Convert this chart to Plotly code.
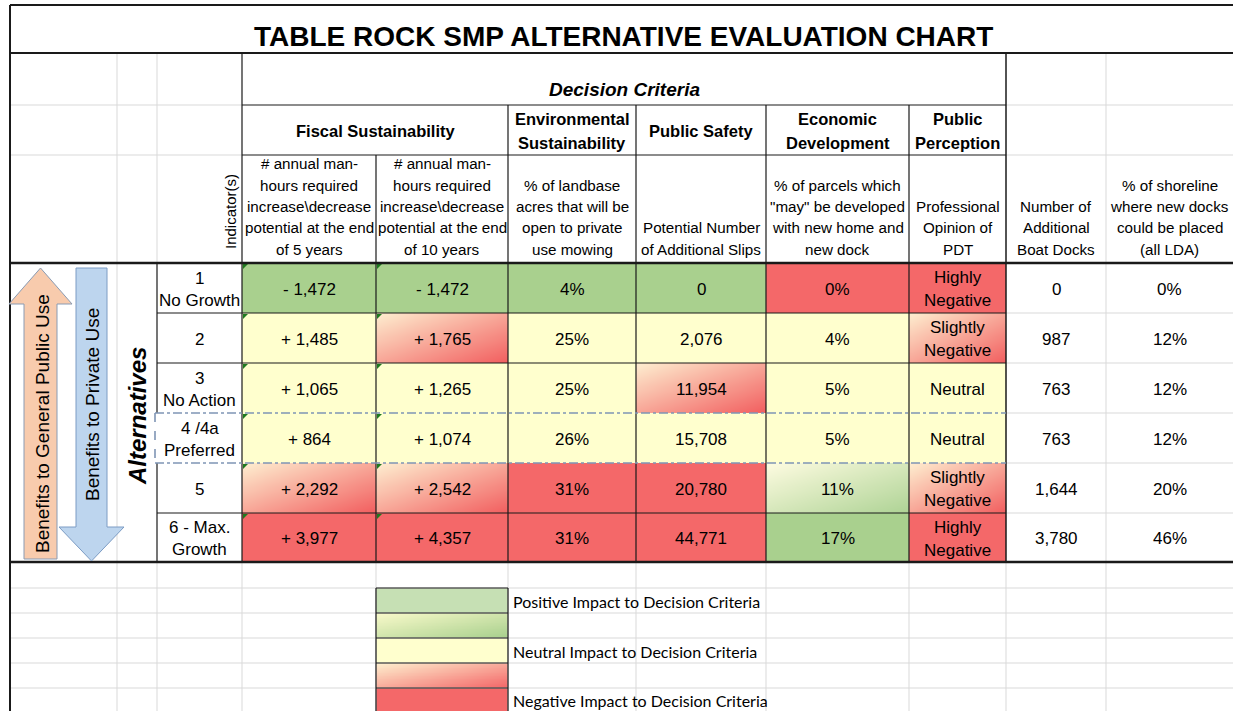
import plotly.graph_objects as go
import numpy as np

# ---------------- data ----------------
title = "TABLE ROCK SMP ALTERNATIVE EVALUATION CHART"
super_header = "Decision Criteria"
criteria_groups = [["Fiscal Sustainability"], ["Environmental", "Sustainability"], ["Public Safety"],
                   ["Economic", "Development"], ["Public", "Perception"]]
indicators = [
    ["# annual man-", "hours required", "increase\\decrease", "potential at the end", "of 5 years"],
    ["# annual man-", "hours required", "increase\\decrease", "potential at the end", "of 10 years"],
    ["% of landbase", "acres that will be", "open to private", "use mowing"],
    ["Potential Number", "of Additional Slips"],
    ["% of parcels which", '"may" be developed', "with new home and", "new dock"],
    ["Professional", "Opinion of", "PDT"],
    ["Number of", "Additional", "Boat Docks"],
    ["% of shoreline", "where new docks", "could be placed", "(all LDA)"],
]
alternatives = [["1", "No Growth"], ["2"], ["3", "No Action"], ["4 /4a", "Preferred"], ["5"], ["6 - Max.", "Growth"]]
fiscal_5yr = [-1472, 1485, 1065, 864, 2292, 3977]
fiscal_10yr = [-1472, 1765, 1265, 1074, 2542, 4357]
env_pct = [4, 25, 25, 26, 31, 31]
slips = [0, 2076, 11954, 15708, 20780, 44771]
econ_pct = [0, 4, 5, 5, 11, 17]
perception = ["Highly Negative", "Slightly Negative", "Neutral", "Neutral", "Slightly Negative", "Highly Negative"]
boat_docks = [0, 987, 763, 763, 1644, 3780]
shoreline_pct = [0, 12, 12, 12, 20, 46]
# impact rating per alternative for the 6 decision-criteria columns
# P positive, PN positive/neutral, N neutral, NX neutral/negative, X negative
impact = [
    ["P", "P", "P", "P", "X", "X"],
    ["N", "NX", "N", "N", "N", "NX"],
    ["N", "N", "N", "NX", "N", "N"],
    ["N", "N", "N", "N", "N", "N"],
    ["NX", "NX", "X", "X", "PN", "NX"],
    ["X", "X", "X", "X", "P", "X"],
]
legend_levels = ["P", "PN", "N", "NX", "X"]
legend_labels = ["Positive Impact to Decision Criteria", "", "Neutral Impact to Decision Criteria", "",
                 "Negative Impact to Decision Criteria"]
arrow_labels = ["Benefits to General Public Use", "Benefits to Private Use"]
side_label = "Alternatives"
indicator_label = "Indicator(s)"

# ---------------- layout geometry (pixels) ----------------
W, H = 1233, 711
COLX = [10, 117, 157, 242, 376, 508, 636, 766, 909, 1006, 1106, 1233]
HDRY = [5, 53, 105, 155, 263]
ROWY = [263, 313, 363, 413, 463, 513, 562]
LEGY = [562, 588, 613, 638, 663, 688, 711]
FONT = "Liberation Sans, Arial, sans-serif"
BLACK = "#1a1a1a"
GRID = "#d9d9d9"

SOLID = {"P": "#A9D08E", "N": "#FFFFCE", "X": "#F46869"}
GRAD = {"NX": ["#FDE9CC", "#F26262"], "PN": ["#FBFADE", "#B0D497"]}
LEG_SOLID = {"P": "#C6E0B4", "N": "#FFFFCE", "X": "#F46869"}
LEG_GRAD = {"NX": ["#FDEBCB", "#F46869"], "PN": ["#F6F8C8", "#A9D08E"]}

fig = go.Figure()
shapes = []
annots = []


def rect(x0, y0, x1, y1, fill, layer="below", line=None):
    shapes.append(dict(type="rect", x0=x0, x1=x1, y0=y0, y1=y1, fillcolor=fill, layer=layer,
                       line=dict(width=0) if line is None else line, xref="x", yref="y"))


def hline(y, x0, x1, color=BLACK, width=1, dash=None):
    ln = dict(color=color, width=width)
    if dash:
        ln["dash"] = dash
    shapes.append(dict(type="line", x0=x0, x1=x1, y0=y, y1=y, line=ln, xref="x", yref="y"))


def vline(x, y0, y1, color=BLACK, width=1, dash=None):
    ln = dict(color=color, width=width)
    if dash:
        ln["dash"] = dash
    shapes.append(dict(type="line", x0=x, x1=x, y0=y0, y1=y1, line=ln, xref="x", yref="y"))


def gradient(x0, y0, x1, y1, c0, c1, n=16):
    xs = [x0 + (i + 0.5) * (x1 - x0) / n for i in range(n)]
    ys = [y0 + (j + 0.5) * (y1 - y0) / n for j in range(n)]
    z = [[(i + j) / (2.0 * (n - 1)) for i in range(n)] for j in range(n)]
    fig.add_trace(go.Heatmap(x=xs, y=ys, z=z, zmin=0, zmax=1, zsmooth="best",
                             colorscale=[[0, c0], [1, c1]], showscale=False, hoverinfo="skip"))


def text(x, y, s, size=16, bold=False, italic=False, angle=0, xanchor="center", family=FONT, color="black"):
    if italic:
        s = "<i>" + s + "</i>"
    if bold:
        s = "<b>" + s + "</b>"
    annots.append(dict(x=x, y=y, xref="x", yref="y", text=s, showarrow=False, textangle=angle,
                       xanchor=xanchor, yanchor="middle", font=dict(size=size, family=family, color=color)))


def multiline(xc, yc, lines, size=16, spacing=22, bold=False):
    n = len(lines)
    for k, s in enumerate(lines):
        text(xc, yc + (k - (n - 1) / 2.0) * spacing, s, size=size, bold=bold)


# ---------------- light spreadsheet grid ----------------
for y in HDRY[2:4]:
    hline(y, COLX[0], COLX[3], GRID)
    hline(y, COLX[9], COLX[11], GRID)
for x in COLX[1:3]:
    vline(x, HDRY[1], HDRY[4], GRID)
vline(COLX[10], HDRY[1], ROWY[-1], GRID)
vline(COLX[1], ROWY[0], ROWY[-1], GRID)
for y in ROWY[1:-1]:
    hline(y, COLX[9], COLX[11], GRID)
for y in LEGY[1:-1]:
    hline(y, COLX[0], COLX[11], GRID)
for x in COLX[1:11]:
    vline(x, LEGY[0], LEGY[-1], GRID)

# ---------------- data cells ----------------
signed = lambda v: ("- " if v < 0 else "+ ") + f"{abs(v):,}"
cols_text = [
    [signed(v) for v in fiscal_5yr],
    [signed(v) for v in fiscal_10yr],
    [f"{v}%" for v in env_pct],
    [f"{v:,}" for v in slips],
    [f"{v}%" for v in econ_pct],
    perception,
    [f"{v:,}" for v in boat_docks],
    [f"{v}%" for v in shoreline_pct],
]

for r in range(6):
    y0, y1 = ROWY[r], ROWY[r + 1]
    yc = (y0 + y1) / 2
    for c in range(8):
        x0, x1 = COLX[3 + c], COLX[4 + c]
        if c < 6:
            lvl = impact[r][c]
            if lvl in SOLID:
                rect(x0, y0, x1, y1, SOLID[lvl])
            else:
                gradient(x0, y0, x1, y1, *GRAD[lvl])
        s = cols_text[c][r]
        parts = s.split(" ") if c == 5 and " " in s else [s]
        multiline((x0 + x1) / 2, yc + 1, parts, size=17, spacing=23)
        if c < 2:
            shapes.append(dict(type="path", path=f"M {x0+1},{y0+1} L {x0+6},{y0+1} L {x0+1},{y0+6} Z",
                               fillcolor="#1f7a1f", line=dict(width=0), xref="x", yref="y"))
    multiline((COLX[2] + COLX[3]) / 2, yc + 1, alternatives[r], size=17, spacing=22)

# ---------------- table borders ----------------
hline(HDRY[0], COLX[0], COLX[11], BLACK, 2)
hline(HDRY[1], COLX[0], COLX[11], BLACK, 2)
vline(COLX[0], HDRY[0], H, BLACK, 2)
vline(COLX[3], HDRY[1], ROWY[-1], BLACK, 1.2)
vline(COLX[9], HDRY[1], ROWY[-1], BLACK, 1.5)
hline(HDRY[2], COLX[3], COLX[9], BLACK, 1.2)
hline(HDRY[3], COLX[3], COLX[9], BLACK, 1.2)
for x in COLX[5:9]:
    vline(x, HDRY[2], ROWY[-1], BLACK, 1.2)
vline(COLX[4], HDRY[3], ROWY[-1], BLACK, 1.2)
hline(ROWY[0], COLX[0], COLX[11], BLACK, 2.5)
hline(ROWY[-1], COLX[0], COLX[11], BLACK, 2.5)
for k, y in enumerate(ROWY[1:-1], start=1):
    if k in (3, 4):
        continue
    hline(y, COLX[2], COLX[9], BLACK, 1.2)
for r in range(6):
    if r != 3:
        vline(COLX[2], ROWY[r], ROWY[r + 1], BLACK, 1.2)
# dashed highlight around preferred alternative
for y in (ROWY[3], ROWY[4]):
    hline(y, COLX[2] - 2, COLX[9], "#7F95B5", 1.6, "dashdot")
vline(COLX[2] - 2, ROWY[3], ROWY[4], "#7F95B5", 1.6, "dash")

# ---------------- headers ----------------
text((COLX[0] + COLX[11]) / 2 + 2, 36, title, size=28, bold=True)
text((COLX[3] + COLX[9]) / 2, 89, super_header, size=19, bold=True, italic=True)
grp_spans = [(COLX[3], COLX[5]), (COLX[5], COLX[6]), (COLX[6], COLX[7]), (COLX[7], COLX[8]), (COLX[8], COLX[9])]
for (x0, x1), lines in zip(grp_spans, criteria_groups):
    multiline((x0 + x1) / 2, 131, lines, size=16.5, spacing=24, bold=True)
for c, lines in enumerate(indicators):
    x0, x1 = COLX[3 + c], COLX[4 + c]
    n = len(lines)
    for k, s in enumerate(lines):
        text((x0 + x1) / 2, 249 - (n - 1 - k) * 21.3, s, size=15.2)
text(230, 212, indicator_label, size=15, angle=-90)

# ---------------- arrows ----------------
shapes.append(dict(type="path", path="M 24,559 L 24,304 L 9,304 L 40.5,268 L 72,304 L 57,304 L 57,559 Z",
                   fillcolor="#F8CBAD", line=dict(color="#8A9BB3", width=1), xref="x", yref="y"))
shapes.append(dict(type="path", path="M 76,268 L 107,268 L 107,527 L 124,527 L 91.5,561 L 59,527 L 76,527 Z",
                   fillcolor="#BDD5EE", line=dict(color="#7C9CC4", width=1), xref="x", yref="y"))
text(42, 424, arrow_labels[0], size=19, angle=-90)
text(92, 405, arrow_labels[1], size=19, angle=-90)
text(137, 416, side_label, size=24, bold=True, italic=True, angle=-90)

# ---------------- legend ----------------
for k, lvl in enumerate(legend_levels):
    y0, y1 = LEGY[k + 1], LEGY[k + 2]
    x0, x1 = COLX[4], COLX[5]
    if lvl in LEG_SOLID:
        rect(x0, y0, x1, y1, LEG_SOLID[lvl])
    else:
        gradient(x0, y0, x1, y1, *LEG_GRAD[lvl])
    hline(y0, x0, x1, BLACK, 1.2)
    if legend_labels[k]:
        text(511, (y0 + y1) / 2 + 1, legend_labels[k], size=16, xanchor="left", family="Lato, Carlito, sans-serif")
vline(COLX[4], LEGY[1], H, BLACK, 1.2)
vline(COLX[5], LEGY[1], H, BLACK, 1.2)

fig.update_layout(
    width=W, height=H, margin=dict(l=0, r=0, t=0, b=0),
    paper_bgcolor="white", plot_bgcolor="white",
    xaxis=dict(range=[0, W], visible=False, fixedrange=True, autorange=False),
    yaxis=dict(range=[H, 0], visible=False, fixedrange=True, autorange=False),
    shapes=shapes, annotations=annots, showlegend=False,
)
fig.write_html("out.html", config={"displayModeBar": False},
               post_script="document.body.style.margin='0';document.body.style.overflow='hidden';")
